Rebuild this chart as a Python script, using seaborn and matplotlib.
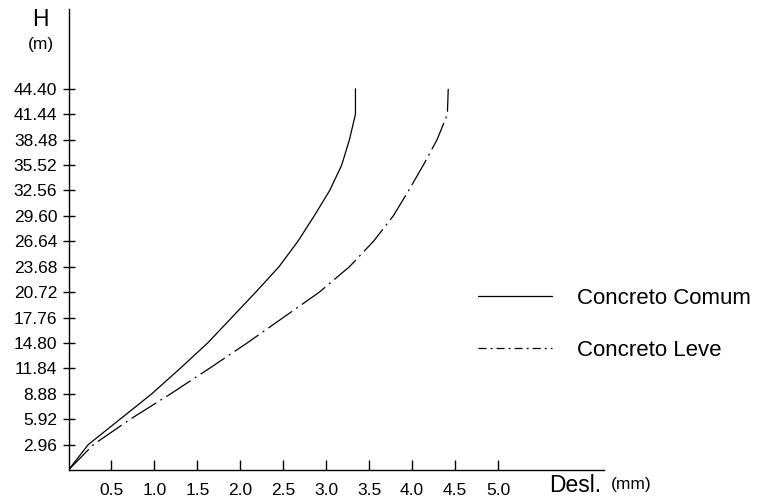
import matplotlib
matplotlib.use("Agg")
import matplotlib.pyplot as plt
from matplotlib.lines import Line2D
import pandas as pd
import seaborn as sns

# Storey heights (m) and lateral displacement (mm) at each level
H = [0.0, 2.96, 5.92, 8.88, 11.84, 14.80, 17.76, 20.72, 23.68,
     26.64, 29.60, 32.56, 35.52, 38.48, 41.44, 44.40]
comum = [0.0, 0.23, 0.60, 0.97, 1.30, 1.62, 1.90, 2.18, 2.45,
         2.67, 2.86, 3.04, 3.18, 3.27, 3.34, 3.34]
leve = [0.0, 0.29, 0.72, 1.19, 1.64, 2.08, 2.50, 2.92, 3.27,
        3.55, 3.78, 3.96, 4.13, 4.29, 4.41, 4.42]
series = ["Concreto Comum", "Concreto Leve"]

xticks = [0.5, 1.0, 1.5, 2.0, 2.5, 3.0, 3.5, 4.0, 4.5, 5.0]
xtick_labels = ["0.5", "1.0", "1.5", "2.0", "2.5", "3.0", "3.5", "4.0", "4.5", "5.0"]
yticks = H[1:]
ytick_labels = ["2.96", "5.92", "8.88", "11.84", "14.80", "17.76", "20.72", "23.68",
                "26.64", "29.60", "32.56", "35.52", "38.48", "41.44", "44.40"]

df = pd.DataFrame({
    "H": H + H,
    "Desl": comum + leve,
    "serie": [series[0]] * len(H) + [series[1]] * len(H),
})

sns.set_style("white")
plt.rcParams["font.family"] = ["Liberation Sans", "DejaVu Sans"]
plt.rcParams["lines.scale_dashes"] = False
plt.rcParams["text.color"] = "black"
plt.rcParams["xtick.color"] = "black"
plt.rcParams["ytick.color"] = "black"

W, Hpx = 766, 498
fig = plt.figure(figsize=(W / 100, Hpx / 100), dpi=100)
ax = fig.add_axes([68.5 / W, 1 - 470 / Hpx, (604 - 68.5) / W, (470 - 9) / Hpx])

curve_dash = (20.9, 3.6, 1.4, 3.6)
sns.lineplot(data=df, x="Desl", y="H", hue="serie", style="serie",
             palette=["black", "black"], dashes=["", curve_dash],
             sort=False, estimator=None, linewidth=0.9, legend=False, ax=ax)
ax.lines[0].set_linestyle("-")
ax.lines[1].set_dashes(curve_dash)

ax.set_xlim(0, 6.233)
ax.set_ylim(0, 53.7)
for side in ("top", "right"):
    ax.spines[side].set_visible(False)
for side in ("left", "bottom"):
    ax.spines[side].set_color("black")
    ax.spines[side].set_linewidth(1.0)

ax.set_xticks(xticks)
ax.set_xticklabels(xtick_labels)
ax.set_yticks(yticks)
ax.set_yticklabels(ytick_labels)
ax.tick_params(axis="x", bottom=True, direction="in", length=7.2, width=1.0,
               pad=9, labelsize=12.5)
ax.tick_params(axis="y", left=True, direction="inout", length=8.6, width=1.0,
               pad=3.8, labelsize=12.5)
ax.set_xlabel("")
ax.set_ylabel("")

# Axis titles with units
fig.text(40 / W, 1 - 19.5 / Hpx, "H", fontsize=16.5, ha="center", va="center")
fig.text(41 / W, 1 - 45 / Hpx, "(m)", fontsize=12.5, ha="center", va="center")
fig.text(549 / W, 1 - 491.5 / Hpx, "Desl.", fontsize=16.5, ha="left", va="baseline")
fig.text(611 / W, 1 - 488.5 / Hpx, "(mm)", fontsize=12.5, ha="left", va="baseline")

handles = [
    Line2D([], [], color="black", linewidth=0.9),
    Line2D([], [], color="black", linewidth=0.9, dashes=(5.8, 2.9, 1.4, 2.9)),
]
ax.legend(handles, series, loc="center left",
          bbox_to_anchor=(478 / W, 1 - 324.5 / Hpx), bbox_transform=fig.transFigure,
          frameon=False, fontsize=16, handlelength=3.33, handletextpad=1.13,
          labelspacing=1.38, borderpad=0, borderaxespad=0)

fig.savefig("out.png", dpi=100)
